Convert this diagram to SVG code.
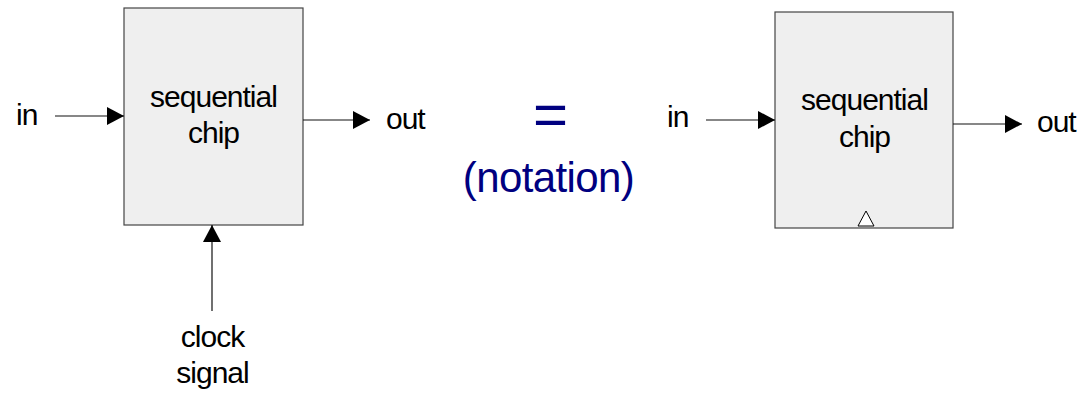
<svg xmlns="http://www.w3.org/2000/svg" width="1083" height="393" viewBox="0 0 1083 393">
<style>
.box{fill:#efefef;stroke:#444;stroke-width:1.2}
.lbl{font-family:"Liberation Sans",Arial,sans-serif;font-size:30px;letter-spacing:-1px;fill:#000}
.c{text-anchor:middle}
.wire{stroke:#111;stroke-width:1.2;fill:none}
.nav{font-family:"Liberation Sans",Arial,sans-serif;fill:#000080;text-anchor:middle}
</style>
<defs>
<marker id="ah" markerWidth="17" markerHeight="18" refX="17" refY="9" orient="auto" markerUnits="userSpaceOnUse">
<path d="M0,0 L17,9 L0,18 Z" fill="#000"/>
</marker>
</defs>
<g id="chip1">
<rect class="box" x="124" y="8" width="179" height="217"/>
<text class="lbl c" x="213.5" y="107">sequential</text>
<text class="lbl c" x="213.5" y="143">chip</text>
</g>
<g id="in1"><text class="lbl" x="16" y="125">in</text></g>
<g id="out1"><text class="lbl" x="386" y="129">out</text></g>
<g id="clock"><text class="lbl c" x="212.5" y="347">clock</text><text class="lbl c" x="212.5" y="383">signal</text></g>
<g id="eq">
<text class="nav" x="550.5" y="135" font-size="60">=</text>
<text class="nav" x="548.5" y="192" font-size="42" letter-spacing="-0.6">(notation)</text>
</g>
<g id="chip2">
<rect class="box" x="775" y="12" width="178" height="216"/>
<text class="lbl c" x="864.5" y="110">sequential</text>
<text class="lbl c" x="864.5" y="147">chip</text>
<path d="M866,211 L858,226 L874,226 Z" fill="#fff" stroke="#000" stroke-width="1"/>
</g>
<g id="in2"><text class="lbl" x="667" y="127">in</text></g>
<g id="out2"><text class="lbl" x="1037" y="132">out</text></g>
<g id="connectors">
<line class="wire" x1="55" y1="116" x2="124" y2="116" marker-end="url(#ah)" stroke="#444"/>
<line class="wire" x1="303" y1="120" x2="370" y2="120" marker-end="url(#ah)"/>
<line class="wire" x1="212" y1="311" x2="212" y2="225" marker-end="url(#ah)"/>
<line class="wire" x1="706" y1="120" x2="775" y2="120" marker-end="url(#ah)"/>
<line class="wire" x1="953" y1="124" x2="1022" y2="124" marker-end="url(#ah)"/>
</g>
</svg>
